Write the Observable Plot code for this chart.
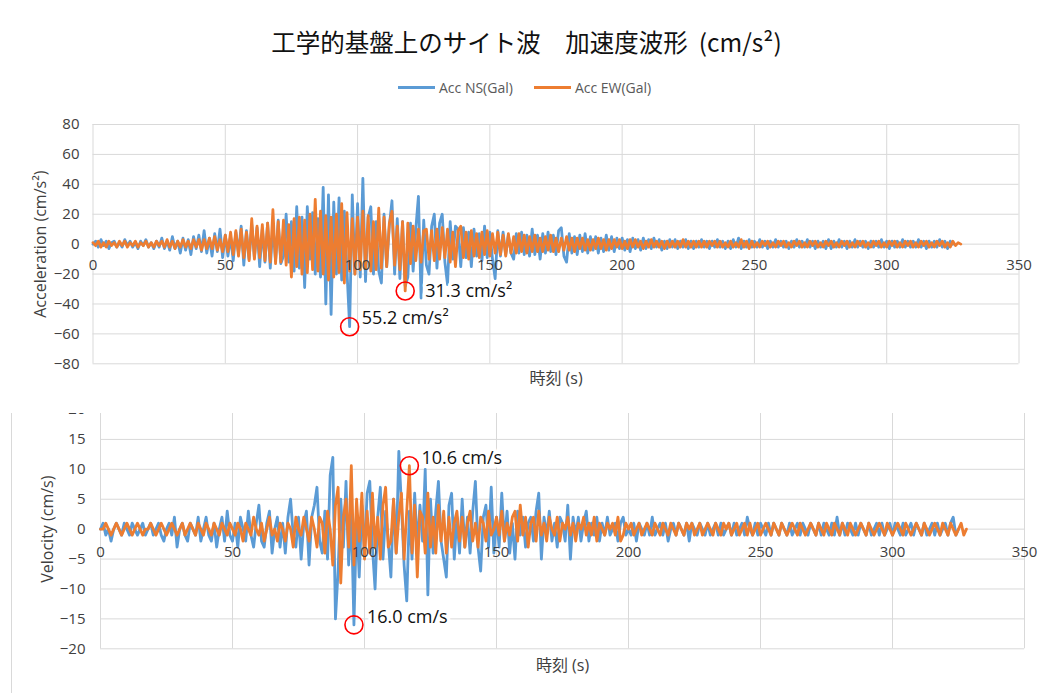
<!DOCTYPE html>
<html><head><meta charset="utf-8">
<script src="https://cdn.jsdelivr.net/npm/d3@7"></script>
<script src="https://cdn.jsdelivr.net/npm/@observablehq/plot@0.6"></script>
<style>
body{margin:0;background:#fff;}
#page{position:relative;width:1043px;height:693px;overflow:hidden;background:#fff;font-family:'Open Sans','Noto Sans CJK JP',sans-serif;}
#title{position:absolute;left:5px;top:25px;width:1043px;text-align:center;font-family:'Noto Sans CJK JP',sans-serif;font-size:24.5px;line-height:34px;color:#111;white-space:pre;}
#legend{position:absolute;left:398px;top:77px;height:20px;display:flex;align-items:center;font-size:14px;color:#595959;white-space:pre;}
.sw{display:inline-block;width:37px;height:3px;margin-right:4px;}
.item{display:flex;align-items:center;margin-right:21px;}
#top{position:absolute;left:0;top:100px;}
#bottom{position:absolute;left:0;top:390px;}
#crop{position:absolute;left:0;top:390px;width:1043px;height:23px;background:#fff;}
#frame{position:absolute;left:11px;top:413px;width:0;height:280px;border-left:1px solid #d9d9d9;}
</style></head><body>
<div id="page">
<div id="title"></div>
<div id="legend"></div>
<div id="top"></div>
<div id="bottom"></div>
<div id="crop"></div>
<div id="frame"></div>
</div>
<script>
const titleText = "工学的基盤上のサイト波　加速度波形  (cm/s²)";
const seriesNames = ["Acc NS(Gal)", "Acc EW(Gal)"];
const colors = ["#5B9BD5", "#ED7D31"];
const xTicks = [0, 50, 100, 150, 200, 250, 300, 350];
const accTicks = [-80, -60, -40, -20, 0, 20, 40, 60, 80];
const velTicks = [-20, -15, -10, -5, 0, 5, 10, 15, 20];
const dt = 1; // sampling step (s)

// Acceleration NS (cm/s^2), t = 0..325 s
const accNS = [
0, 2, -2, 3, -1, 2, -3, 1, 2, -2,
1, -2, 3, -1, 2, -2, 1, -3, 2, -1,
3, -2, 1, -3, 2, -2, 4, -3, 2, -4,
5, -3, 2, -6, 4, -4, 3, -7, 5, -3,
6, -5, 9, -6, 4, -8, 7, -5, 10, -9,
6, -8, 5, -11, 8, -6, 12, -14, 9, -10,
13, -9, 11, -15, 10, -12, 14, -16, 12, -11,
16, -13, -8, 20, -12, 15, -18, 25, -16, 18,
-29, 25, -10, 21, -20, 17, -22, 38, -40, 33,
-47, 28, -20, 31, -24, 22, -18, -55.2, 33, -20,
27, -22, 44, -25, 18, 25, -20, 15, -18, -26,
20, -15, 12, 29, -20, 17, -23, 15, -28, -22,
14, -18, 10, 32, -36, 16, -14, -20, 12, 20,
-16, 14, 20, -12, -27, 15, -10, 12, 10, -15,
11, -9, 8, -15, 10, -8, 7, -11, 12, -9,
8, -10, -23, 9, -8, 8, -7, 6, -6, -10,
7, -6, 8, -7, 6, -8, 10, -7, 6, -10,
7, -6, 8, -5, 6, -7, 9, 11, -8, -12,
7, -6, 5, -7, 6, -5, 7, -6, 5, -4,
5, -6, 4, -5, 6, -4, 5, -5, 4, -3,
4, -4, 3, -5, 4, -3, 3, -4, 4, -3,
3, -3, 4, -2, 3, -4, 2, -3, 3, -2,
3, -3, 2, -2, 3, -3, 2, -3, 2, -2,
3, -2, 2, -3, 2, -2, 3, -2, 2, -3,
2, -3, 3, -2, 4, -3, 2, -2, 3, -2,
2, -2, 3, -2, 2, -3, 2, -2, 3, -2,
2, -2, 2, -3, 2, -2, 3, -2, 2, -2,
3, -2, 2, -3, 2, -2, 2, -3, 3, -3,
2, -2, 3, -2, 2, -3, 2, -2, 3, -2,
2, -2, 2, -3, 2, -2, 2, -2, 3, -2,
2, -3, 2, -2, 2, -2, 3, -2, 2, -2,
2, -2, 3, -2, 2, -3, 2, -2, 2, -2,
3, -2, 2, -3, 2, 0
];

// Acceleration EW (cm/s^2), t = 0..328 s
const accEW = [
1, -1, 2, -2, 1, -2, 2, -1, 1, -2,
2, -1, 2, -2, 1, -1, 2, -2, 1, -1,
2, -2, 1, -2, 2, -1, 2, -2, 3, -2,
2, -3, 2, -2, 3, -2, 2, -3, 3, -2,
3, -4, 3, -3, 4, -3, 5, -4, 3, -5,
6, -5, 8, -7, 9, -8, 10, -9, 8, -11,
17, -10, 12, -9, 13, -11, 14, -12, 23, -13,
15, -12, 16, -14, 13, -22, 17, -15, 18, -20,
16, -19, 20, -17, 30, -18, 22, -20, 19, -24,
18, -22, 20, -19, 27, -26, 21, -18, 17, -20,
18, -17, 22, -16, 19, -18, 15, -17, 24, -16,
18, -15, 14, 22, -14, 12, -17, 15, -31.3, 14,
-13, 12, -11, 10, -12, 9, 10, -10, 9, -11,
10, -10, 11, -9, 10, -12, 8, -15, 9, 12,
-9, 8, -10, 9, -8, 7, -9, 8, -7, 9,
-8, 7, -6, 8, -7, 6, -8, 7, -6, 5,
-6, 7, -5, 6, -6, 5, -5, 6, -5, 4,
-5, 5, -4, 6, -5, 4, -5, 4, -4, 5,
-4, 4, -5, 4, -3, 4, -4, 3, -4, 3,
-3, 4, -3, 3, -4, 3, -3, 3, -2, 3,
-3, 2, -3, 3, -2, 3, -2, 2, -3, 2,
-2, 3, -2, 2, -2, 2, -3, 2, -2, 2,
-2, 2, -2, 3, -2, 2, -2, 2, -2, 2,
-2, 2, -2, 2, -1, 2, -2, 2, -2, 1,
-2, 2, -2, 1, -2, 3, -2, 2, -3, 2,
-2, 1, -2, 2, -1, 2, -2, 1, -2, 2,
-1, 2, -2, 1, -2, 2, -1, 2, -2, 1,
-2, 2, -1, 2, -2, 1, -2, 2, -1, 2,
-2, 1, -2, 2, -1, 2, -2, 1, -2, 2,
-1, 2, -2, 1, -2, 2, -1, 2, -2, 1,
-2, 2, -1, 2, -2, 1, -2, 2, -1, 2,
-2, 1, -2, 2, -1, 2, -2, 1, -2, 2,
-1, 2, -2, 1, -2, 2, -1, 1, 0
];

// Velocity NS (cm/s), t = 0..325 s
const velNS = [
0, 1, -1, 0, -2, 0, 1, 0, -1, 1,
0, -1, 1, 0, -1, 0, 1, -1, 0, 1,
-1, 0, 1, -1, -2, 0, 1, -1, 2, -3,
0, 1, -1, -2, 1, 0, -1, 2, -2, 0,
2, -1, -2, 1, -3, 0, 2, -2, 3, -1,
-2, 1, -3, 2, 0, -2, 3, -1, -3, 1,
4, -2, -3, 1, 3, -4, 0, 2, -3, 1,
-4, 2, 5, -1, -3, 2, -5, 1, 3, -6,
2, 4, 7, -2, -4, 3, -5, 9, 12, -15,
-7, 5, -3, 8, -6, 3, -16.0, 2, -8, 4,
-4, 6, 8, -3, -10, 2, 7, -5, 3, -2,
-8, 5, -4, 13, 4, -6, -12, 3, -5, 6,
-3, 4, -2, 10, -11, 5, -4, 3, 8, -2,
-5, -8, 4, 6, -5, 2, -4, 5, -3, 2,
-4, 3, 8, -3, -7, 2, 4, -3, 7, -4,
2, -3, 6, -2, 3, -4, 1, -5, 3, -1,
2, -3, 1, 2, -2, 3, 6, -5, 2, -1,
3, -2, 1, -3, 2, 1, -2, 4, -5, 2,
-1, 2, -2, 1, 3, -2, 1, -1, 2, -2,
1, -1, 2, -1, 0, 1, -2, 1, 2, -1,
0, -1, 1, -2, 1, 0, -1, 1, -1, 2,
-1, 0, 1, -1, 1, -2, 0, 1, -1, 1,
0, -1, 1, -2, 1, 0, -1, 1, 0, -1,
1, -1, 0, 1, -1, 1, -1, 0, 1, -1,
1, -1, 0, 1, -1, 2, 0, -1, 1, -1,
1, 0, -1, 1, -1, 1, 0, -1, 1, 0,
-1, 1, -1, 0, 1, -1, 1, 0, -1, 1,
0, -1, 1, -1, 1, 0, -1, 1, -1, 2,
-1, 1, -1, 1, 0, -1, 1, -1, 1, 0,
-1, 1, -1, 0, 1, -1, 1, -1, 0, 1,
-1, 1, 0, -1, 1, -1, 0, 1, -1, 1,
0, -1, 1, -1, 0, 1, -1, 1, -1, 0,
1, -1, 1, 2, -1, 0
];

// Velocity EW (cm/s), t = 0..328 s
const velEW = [
0, 0, 1, 0, -1, 0, 1, 0, -1, 0,
1, 0, -1, 0, 1, 0, -1, 0, 0, 1,
0, -1, 0, 1, 0, -1, 0, 1, 0, -1,
0, 1, -1, 0, 1, 0, -1, 1, 0, -1,
1, 0, -1, 1, 0, -1, 1, 0, -1, 1,
0, -1, 1, 0, -2, 1, 0, -1, 2, 0,
-1, 1, -2, 0, 2, -1, 0, -2, 1, 0,
-2, 1, 0, -3, 2, 0, -1, 2, 0, -2,
2, 0, -3, 2, 1, -4, 3, 0, -6, 4,
7, -9, 2, 5, -3, 10.6, -6, 5, -2, 6,
-5, 3, -4, 6, -3, 2, -5, 4, 7, -3,
-2, 5, -4, 2, 6, -5, 3, 10.6, -4, 4,
-8, 3, 2, -4, 6, -3, 2, -4, 4, -2,
3, -4, 2, -3, 1, 3, -2, 2, -3, 1,
3, -2, 1, -3, 2, 1, -2, 3, -1, 0,
2, -1, 3, -2, 1, -1, 2, 3, -2, 4,
-1, 2, -3, 1, 2, -2, 3, -1, 1, -2,
2, 0, -1, 2, -2, 1, 0, 2, -1, 1,
-2, 1, 0, 2, -1, 1, -1, 2, -2, 1,
0, -1, 1, 0, 1, -1, 2, -2, -1, 1,
0, 1, -1, 0, 1, -1, 0, 1, 0, -1,
1, 0, -1, 1, 0, -1, 1, 0, -1, 1,
0, -1, 1, 0, 1, -1, 0, 1, -1, 0,
1, 0, -1, 1, 0, -1, 1, 0, 1, -1,
0, 1, -1, 0, 1, -1, 1, -1, 0, 1,
-1, 0, 1, 0, -1, 1, 0, -1, 1, 0,
-1, 0, 1, 0, -1, 1, 0, -1, 0, 1,
0, -1, 1, 0, -1, 1, 0, -1, 1, 0,
-1, 1, 0, -1, 1, 0, -1, 0, 1, 0,
-1, 1, 0, -1, 0, 1, 0, -1, 1, 0,
-1, 0, 1, 0, -1, 1, 0, -1, 0, 1,
0, -1, 1, 0, -1, 0, 1, 0, -1, 1,
0, -1, 1, 0, -1, 0, 1, -1, 0
];

// Peak annotations
const accPeakT = [97, 118];
const accPeakV = [-55.2, -31.3];
const accPeakLabels = ["55.2 cm/s²", "31.3 cm/s²"];
const velPeakT = [96, 117];
const velPeakV = [-16.0, 10.6];
const velPeakLabels = ["16.0 cm/s", "10.6 cm/s"];

const axisLabels = {accY: "Acceleration (cm/s²)", velY: "Velocity (cm/s)", x: "時刻 (s)"};

// ---- build
document.getElementById("title").textContent = titleText;
const leg = document.getElementById("legend");
seriesNames.forEach((n, i) => {
  const it = document.createElement("div"); it.className = "item";
  const sw = document.createElement("span"); sw.className = "sw"; sw.style.background = colors[i];
  const tx = document.createElement("span"); tx.textContent = n;
  it.appendChild(sw); it.appendChild(tx); leg.appendChild(it);
});

const toRows = vals => vals.map((v, i) => ({t: i * dt, v}));
const peaks = (ts, vs, ls) => ts.map((t, i) => ({t, v: vs[i], label: ls[i]}));
const font = "'Open Sans','Noto Sans CJK JP',sans-serif";
const grid = {stroke: "#d9d9d9", strokeOpacity: 1, strokeWidth: 1};
const tickTxt = {fill: "#404040", fontSize: 15, fontFamily: font};
const titleTxt = {fill: "#404040", fontSize: 16, fontFamily: font, textAnchor: "middle", lineAnchor: "middle"};
const annTxt = {textAnchor: "start", fill: "#111", fontSize: 18, fontFamily: font, stroke: "white", strokeWidth: 7};

function panel(o) {
  const pk = peaks(o.pt, o.pv, o.pl);
  return Plot.plot({
    width: 1043, height: o.height,
    marginTop: o.mt, marginBottom: o.mb, marginLeft: o.ml, marginRight: o.mr,
    x: {domain: [0, 350]}, y: {domain: o.ydom},
    style: {fontFamily: font, fontSize: "15px", color: "#404040", background: "transparent", overflow: "visible"},
    marks: [
      Plot.gridX(xTicks, grid),
      Plot.gridY(o.yticks, grid),
      Plot.line(toRows(o.ns), {x: "t", y: "v", stroke: colors[0], strokeWidth: 2.8}),
      Plot.line(toRows(o.ew), {x: "t", y: "v", stroke: colors[1], strokeWidth: 2.8}),
      Plot.axisY(o.yticks, {tickSize: 0, tickPadding: o.tp, label: null, ...tickTxt}),
      Plot.axisX([], {label: null, tickSize: 0}),
      Plot.text(xTicks, {x: d => d, y: 0, dy: o.xdy, text: d => String(d), ...tickTxt}),
      Plot.text([o.xlab], {frameAnchor: "bottom", dy: o.xtdy, ...titleTxt}),
      Plot.text([o.ylab], {frameAnchor: "left", rotate: -90, dx: o.ytdx, ...titleTxt}),
      Plot.dot(pk, {x: "t", y: "v", r: 9, stroke: "#ff0000", strokeWidth: 1.6, fill: "none"}),
      Plot.text([pk[0]], {x: "t", y: "v", text: "label", dx: o.l0[0], dy: o.l0[1], ...annTxt}),
      Plot.text([pk[1]], {x: "t", y: "v", text: "label", dx: o.l1[0], dy: o.l1[1], ...annTxt})
    ]
  });
}

document.getElementById("top").appendChild(panel({
  height: 290, mt: 24, mb: 26.7, ml: 92.5, mr: 24.5, ydom: [-80, 80], yticks: accTicks, tp: 13.5,
  ns: accNS, ew: accEW, xdy: 21, xtdy: 15, ytdx: -52, xlab: axisLabels.x, ylab: axisLabels.accY,
  pt: accPeakT, pv: accPeakV, pl: accPeakLabels, l0: [12, -8], l1: [20, 0]
}));
document.getElementById("bottom").appendChild(panel({
  height: 303, mt: 19, mb: 44.7, ml: 100, mr: 19, ydom: [-20, 20], yticks: velTicks, tp: 15,
  ns: velNS, ew: velEW, xdy: 23, xtdy: 17, ytdx: -53, xlab: axisLabels.x, ylab: axisLabels.velY,
  pt: velPeakT, pv: velPeakV, pl: velPeakLabels, l0: [13, -8], l1: [12, -8]
}));
</script>
</body></html>
